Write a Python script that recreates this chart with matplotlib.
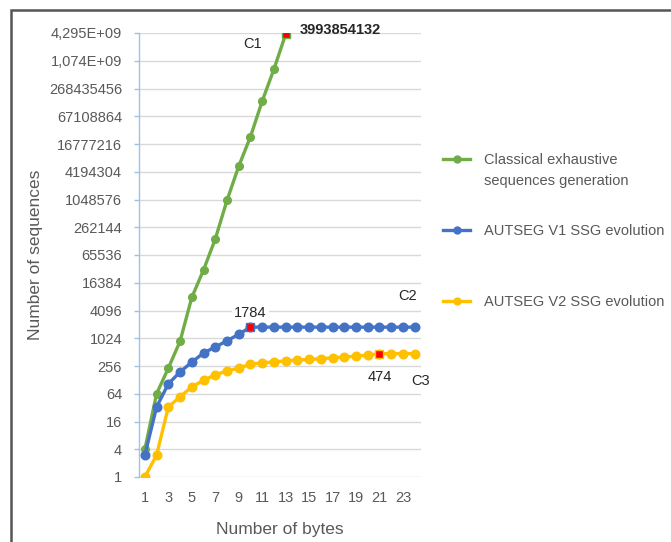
import matplotlib
matplotlib.use("Agg")
import matplotlib.pyplot as plt
from matplotlib.patches import Rectangle
from matplotlib.lines import Line2D

plt.rcParams['font.family'] = ['Liberation Sans', 'DejaVu Sans']

# ---- data ----
bytes_x = list(range(1, 25))
classical_x = list(range(1, 14))
classical = [4, 64, 230, 880, 7850, 31000, 145000, 1000000, 5500000,
             24000000, 142000000, 700000000, 3993854132]
v1 = [3, 33, 105, 190, 310, 490, 660, 900, 1250, 1784] + [1784] * 14
v2 = [1, 3, 33, 55, 90, 125, 165, 200, 230, 280, 300, 315, 330, 345, 355,
      370, 385, 400, 420, 440, 474, 474, 474, 474]
ytick_vals = [4 ** k for k in range(17)]
ytick_labels = ['1', '4', '16', '64', '256', '1024', '4096', '16384', '65536',
                '262144', '1048576', '4194304', '16777216', '67108864',
                '268435456', '1,074E+09', '4,295E+09']
xtick_vals = list(range(1, 24, 2))
labels = ['Classical exhaustive', 'AUTSEG V1 SSG evolution', 'AUTSEG V2 SSG evolution']
label1_line2 = 'sequences generation'
C1_idx, C2_idx, C3_idx = 12, 9, 20

GREEN = '#70AD47'
BLUE = '#4472C4'
YELLOW = '#FFC000'
GRAY = '#595959'
DARK = '#262626'

W, H = 671, 542
fig = plt.figure(figsize=(W / 100, H / 100), dpi=100)
ax = fig.add_axes([139 / W, 1 - 477 / H, (420.5 - 139) / W, (477 - 33) / H])

ax.plot(classical_x, classical, color=GREEN, lw=2.4, marker='o', ms=5.5, zorder=3)
ax.plot(bytes_x, v1, color=BLUE, lw=2.4, marker='o', ms=6.2, zorder=3)
ax.plot(bytes_x, v2, color=YELLOW, lw=2.4, marker='o', ms=6.2, zorder=3)

# highlighted points
ax.plot([classical_x[C1_idx]], [classical[C1_idx]], 's', ms=6, mfc='#FF0000', mec=GREEN, mew=1, zorder=4)
ax.plot([bytes_x[C2_idx]], [v1[C2_idx]], 's', ms=6, mfc='#FF0000', mec=BLUE, mew=1, zorder=4)
ax.plot([bytes_x[C3_idx]], [v2[C3_idx]], 's', ms=6, mfc='#FF0000', mec=YELLOW, mew=1, zorder=4)

ax.set_yscale('log', base=2)
ax.set_ylim(1, 2 ** 32)
ax.set_xlim(0.5, 24.5)
ax.set_yticks(ytick_vals)
ax.set_yticklabels(ytick_labels)
ax.minorticks_off()
ax.set_xticks(xtick_vals)
ax.set_xticklabels([str(v) for v in xtick_vals])

ax.grid(axis='y', color='#D9D9D9', lw=1)
ax.set_axisbelow(True)
for s in ['top', 'right', 'bottom']:
    ax.spines[s].set_visible(False)
ax.spines['left'].set_color('#9DC3E6')
ax.spines['left'].set_linewidth(1)
ax.tick_params(axis='y', colors='#9DC3E6', labelcolor=GRAY, length=3.6, width=1,
               labelsize=10.5, pad=8.6)
ax.tick_params(axis='x', length=0, labelcolor=GRAY, labelsize=10.5, pad=10)

ax.set_xlabel('Number of bytes', color=GRAY, fontsize=12.5, labelpad=12)
ax.set_ylabel('Number of sequences', color=GRAY, fontsize=12.5)
ax.yaxis.set_label_coords(-0.34, 0.5)

# annotations
ax.annotate(f'{classical[C1_idx]}', (classical_x[C1_idx], classical[C1_idx]),
            xytext=(10, 3), textcoords='offset points', fontsize=10.5,
            color=DARK, ha='left', va='center', fontweight='bold')
ax.annotate('C1', (classical_x[C1_idx], classical[C1_idx]),
            xytext=(-24, -7), textcoords='offset points', fontsize=10.5,
            color=DARK, ha='center', va='center')
ax.annotate(f'{v1[C2_idx]}', (bytes_x[C2_idx], v1[C2_idx]),
            xytext=(0, 10), textcoords='offset points', fontsize=10.5,
            color=DARK, ha='center', va='center',
            bbox=dict(boxstyle='square,pad=0.15', fc='white', ec='none'))
ax.annotate('C2', (bytes_x[-1], v1[-1]),
            xytext=(-5, 22.5), textcoords='offset points', fontsize=10.5,
            color=DARK, ha='center', va='center')
ax.annotate(f'{v2[C3_idx]}', (bytes_x[C3_idx], v2[C3_idx]),
            xytext=(0, -17), textcoords='offset points', fontsize=10.5,
            color=DARK, ha='center', va='center',
            bbox=dict(boxstyle='square,pad=0.15', fc='white', ec='none'))
ax.annotate('C3', (bytes_x[-1], v2[-1]),
            xytext=(4, -20), textcoords='offset points', fontsize=10.5,
            color=DARK, ha='center', va='center')

# legend (one per entry, placed like the original)
legend_y = [160, 231, 302]
for color, lab, yy in zip((GREEN, BLUE, YELLOW), labels, legend_y):
    h = Line2D([], [], color=color, lw=2.4, marker='o', ms=5)
    fig.legend([h], [lab], loc='center left', bbox_to_anchor=(430 / W, 1 - yy / H),
               frameon=False, fontsize=10.5, handlelength=1.85, handletextpad=0.95,
               labelcolor=GRAY, borderpad=0.4)
fig.text(484 / W, 1 - 181 / H, label1_line2, ha='left', va='center',
         fontsize=10.5, color=GRAY)

# outer border
fig.patches.append(Rectangle((11 / W, -0.1), 2, 1.1 - 10 / H, transform=fig.transFigure,
                             fill=False, ec='#555555', lw=1.8))

fig.savefig('out.png', dpi=100)
